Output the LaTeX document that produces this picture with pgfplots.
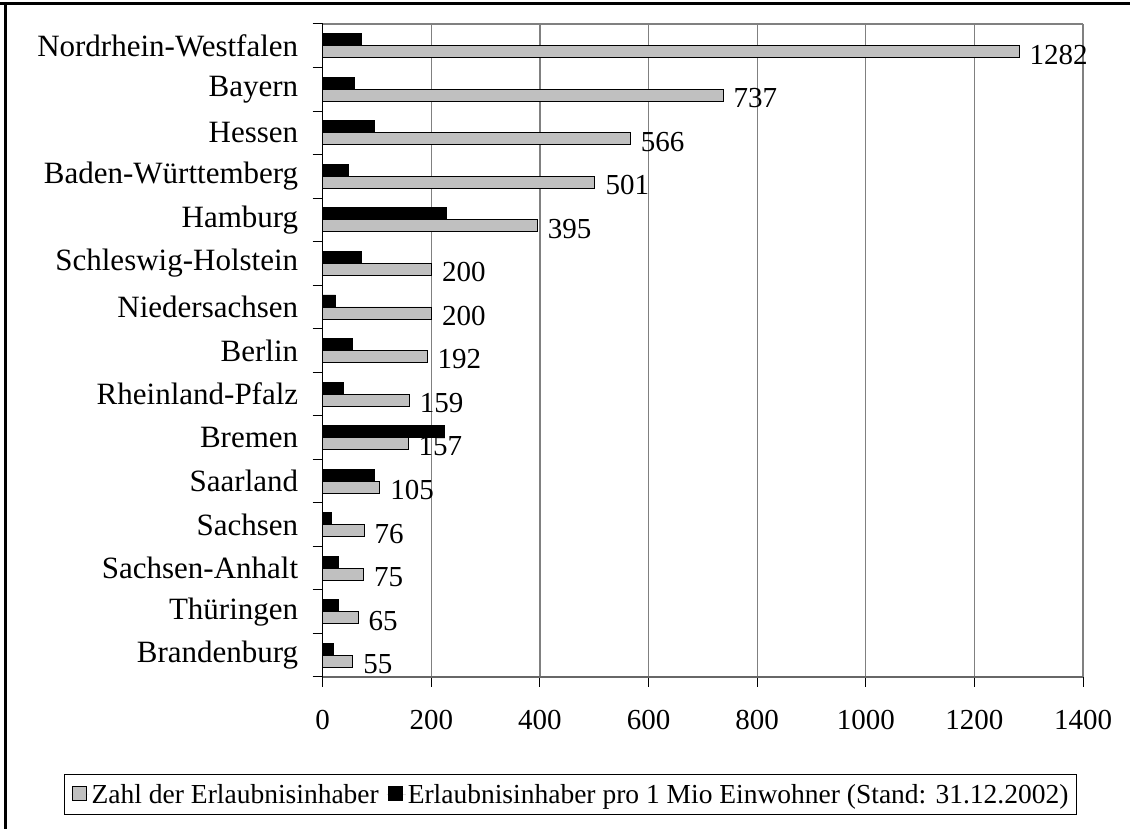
\documentclass[border=0pt]{standalone}
\usepackage{fontspec}
\setmainfont{Liberation Serif}
\usepackage{pgfplots}
\pgfplotsset{compat=1.18}
\definecolor{bargrey}{RGB}{192,192,192}
\definecolor{gridgrey}{RGB}{128,128,128}
\begin{document}
\begin{tikzpicture}
\useasboundingbox (0,0) rectangle (1130bp,829bp);
\draw[line width=3bp] (0,825bp) -- (1130bp,825bp);
\draw[line width=3bp] (5.5bp,0) -- (5.5bp,826.5bp);
\begin{axis}[
  at={(322.7bp,152bp)}, anchor=south west,
  scale only axis, width=760.3bp, height=653bp,
  xbar, bar width=12bp,
  clip=false,
  xmin=0, xmax=1400, ymin=-0.5, ymax=14.5,
  axis lines=left,
  x axis line style={-, gridgrey!80!black, line width=1.2bp},
  y axis line style={-, black, line width=1.2bp},
  xtick={0,200,...,1400},
  ytick={-0.5,0.5,...,14.5},
  yticklabels={},
  extra y ticks={0,...,14},
  extra y tick labels={Brandenburg,Thüringen,Sachsen-Anhalt,Sachsen,Saarland,Bremen,Rheinland-Pfalz,Berlin,Niedersachsen,Schleswig-Holstein,Hamburg,Baden-Württemberg,Hessen,Bayern,Nordrhein-Westfalen},
  extra y tick style={major tick length=0pt, grid=none, yticklabel style={xshift=-21bp, font=\fontsize{31bp}{36bp}\selectfont}},
  tick align=outside,
  major tick length=10bp,
  tick style={black, line width=1bp},
  xmajorgrids,
  major grid style={gridgrey, line width=1.2bp},
  /pgf/number format/1000 sep={},
  /pgf/number format/assume math mode=true,
  tick label style={font=\fontsize{29bp}{34bp}\selectfont},
  xticklabel style={yshift=-20bp},
  legend style={at={(0.326,-0.148)}, anchor=north, legend columns=-1, draw=black, line width=0.8bp,
    font=\fontsize{27.5bp}{30bp}\selectfont, inner ysep=8bp, inner xsep=6bp,
    /tikz/every even column/.append style={column sep=6bp}},
  legend image code/.code={\path[draw=none] (-2bp,0) -- (17bp,0); \draw[#1, line width=0.8bp] (0bp,-6bp) rectangle (14bp,8bp);},
]
\draw[gridgrey, line width=1.2bp] (rel axis cs:0,1) -- (rel axis cs:1,1);
\addplot[fill=bargrey, draw=black, line width=0.8bp, bar shift=-6bp,
  point meta=x, nodes near coords,
  nodes near coords style={anchor=west, font=\fontsize{29bp}{34bp}\selectfont, black, xshift=7bp, yshift=-3bp, /pgf/number format/1000 sep={}}]
  coordinates {(1282,14) (737,13) (566,12) (501,11) (395,10) (200,9) (200,8) (192,7) (159,6) (157,5) (105,4) (76,3) (75,2) (65,1) (55,0)};
\addplot[fill=black, draw=black, line width=0.8bp, bar shift=6bp]
  coordinates {(72,14) (59,13) (96,12) (48,11) (227,10) (72,9) (24,8) (54,7) (39,6) (224,5) (96,4) (16,3) (28,2) (28,1) (20,0)};
\legend{Zahl der Erlaubnisinhaber, Erlaubnisinhaber pro 1 Mio Einwohner (Stand: 31.12.2002)}
\end{axis}
\end{tikzpicture}
\end{document}
